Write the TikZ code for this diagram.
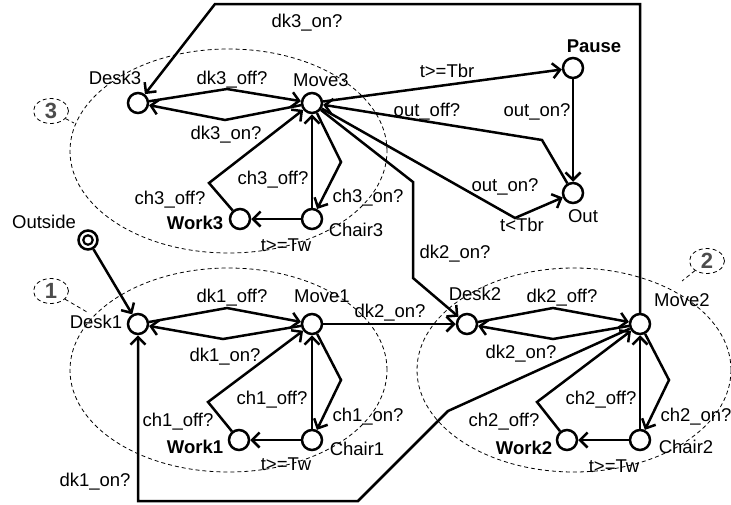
\documentclass[tikz,border=0pt]{standalone}
\usepackage{fontspec}
\setmainfont{Liberation Sans}
\usetikzlibrary{arrows.meta,shapes.geometric}
\begin{document}
\begin{tikzpicture}[x=1pt,y=-1pt,
  state/.style={circle,draw,fill=white,line width=2.5pt,minimum size=20pt,inner sep=0pt},
  lbl/.style={inner sep=0pt,text height=13pt,text depth=0pt,font=\fontsize{18.5}{20}\selectfont},
  blbl/.style={inner sep=0pt,text height=13pt,text depth=0pt,font=\fontsize{18.5}{20}\selectfont\bfseries},
  edge/.style={line width=2.5pt,-{Straight Barb[length=7.5pt,width=15pt]}},
  region/.style={draw,line width=0.8pt,dash pattern=on 4pt off 3pt},
  rlbl/.style={ellipse,draw,line width=0.8pt,dash pattern=on 4pt off 3pt,minimum width=35pt,minimum height=25pt,inner sep=0pt,text=black!70,font=\fontsize{22}{24}\selectfont\bfseries}
]
\useasboundingbox (0,0) rectangle (731,504);

% regions
\draw[region] (228.5,151) ellipse [x radius=158.5pt, y radius=102pt];
\draw[region] (228.5,370) ellipse [x radius=158.5pt, y radius=102pt];
\draw[region] (574,370) ellipse [x radius=157pt, y radius=102pt];

\node[rlbl] (r3) at (51,111) {3};
\node[rlbl] (r1) at (51,291) {1};
\node[rlbl] (r2) at (707,261) {2};
\coordinate (r3e) at (74,123);
\coordinate (r1e) at (87,312);
\coordinate (r2e) at (682,281);
\draw[region] (r3) -- (r3e);
\draw[region] (r1) -- (r1e);
\draw[region] (r2) -- (r2e);

% states
\node[state] (Desk3) at (138,103) {};
\node[state] (Move3) at (312,103) {};
\node[state] (Pause) at (573,68) {};
\node[state] (Out) at (573,193) {};
\node[state] (Work3) at (240,219) {};
\node[state] (Chair3) at (312,219) {};
\node[state,minimum size=19pt] (Outside) at (88,240) {};
\node[circle,draw,line width=2.2pt,minimum size=9.5pt,inner sep=0pt] (OutsideIn) at (88,240) {};
\node[state] (Desk1) at (138,324) {};
\node[state] (Move1) at (312,324) {};
\node[state] (Work1) at (239,440) {};
\node[state] (Chair1) at (312,440) {};
\node[state] (Desk2) at (467,324) {};
\node[state] (Move2) at (640,324) {};
\node[state] (Work2) at (567,440) {};
\node[state] (Chair2) at (640,440) {};

% state names
\node[lbl] (tDesk3) at (115,78) {Desk3};
\node[lbl] (tMove3) at (321,80) {Move3};
\node[blbl] (tPause) at (594,46) {Pause};
\node[lbl] (tOut) at (583,216) {Out};
\node[blbl] (tWork3) at (195,223) {Work3};
\node[lbl] (tChair3) at (356,230) {Chair3};
\node[lbl] (tOutside) at (44,222) {Outside};
\node[lbl] (tDesk1) at (96,322) {Desk1};
\node[lbl] (tMove1) at (322,296) {Move1};
\node[blbl] (tWork1) at (195,447) {Work1};
\node[lbl] (tChair1) at (357,449) {Chair1};
\node[lbl] (tDesk2) at (475,294) {Desk2};
\node[lbl] (tMove2) at (682,300) {Move2};
\node[blbl] (tWork2) at (524,448) {Work2};
\node[lbl] (tChair2) at (686,447) {Chair2};

% corner coordinates
\coordinate (tr) at (640,4);
\coordinate (tl) at (215,4);
\coordinate (bl) at (138,501);
\coordinate (bm) at (358,501);
\coordinate (bk) at (448,411);

% region 3 edges
\draw[edge] (Desk3) -- (227,89) -- (Move3);
\draw[edge] (Move3) -- (225,120) -- (Desk3);
\draw[edge] (Work3) -- (209,183) -- (Move3);
\draw[edge] (Chair3) -- (Move3);
\draw[edge] (Move3) -- (341,162) -- (Chair3);
\draw[edge] (Chair3) -- (Work3);
\draw[edge] (Move3) -- (Pause);
\draw[edge] (Out) -- (542,140) -- (Move3);
\draw[edge] (Pause) -- (Out);
\draw[edge] (Move3) -- (515,218) -- (Out);
\draw[edge] (Move3) -- (413,182) -- (413,278) -- (Desk2);
\draw[edge] (Move2) -- (tr) -- (tl) -- (Desk3);

% region 1 edges
\draw[edge] (Outside) -- (Desk1);
\draw[edge] (Desk1) -- (227,308) -- (Move1);
\draw[edge] (Move1) -- (223,339) -- (Desk1);
\draw[edge] (Work1) -- (208,402) -- (Move1);
\draw[edge] (Chair1) -- (Move1);
\draw[edge] (Move1) -- (341,380) -- (Chair1);
\draw[edge] (Chair1) -- (Work1);
\draw[edge] (Move1) -- (Desk2);
\draw[edge] (Move2) -- (bk) -- (bm) -- (bl) -- (Desk1);

% region 2 edges
\draw[edge] (Desk2) -- (553,308) -- (Move2);
\draw[edge] (Move2) -- (553,339) -- (Desk2);
\draw[edge] (Work2) -- (537,402) -- (Move2);
\draw[edge] (Chair2) -- (Move2);
\draw[edge] (Move2) -- (669,380) -- (Chair2);
\draw[edge] (Chair2) -- (Work2);

% edge labels
\node[lbl] at (307,21) {dk3\_on?};
\node[lbl] at (232,78) {dk3\_off?};
\node[lbl] at (226,133) {dk3\_on?};
\node[lbl] at (447,71) {t>=Tbr};
\node[lbl] at (427,110) {out\_off?};
\node[lbl] at (537,110) {out\_on?};
\node[lbl] at (505,185) {out\_on?};
\node[lbl] at (522,225) {t<Tbr};
\node[lbl] at (170,198) {ch3\_off?};
\node[lbl] at (273,178) {ch3\_off?};
\node[lbl] at (368,196) {ch3\_on?};
\node[lbl] at (286,245) {t>=Tw};
\node[lbl] at (455,252) {dk2\_on?};
\node[lbl] at (232,296) {dk1\_off?};
\node[lbl] at (225,355) {dk1\_on?};
\node[lbl] at (390,311) {dk2\_on?};
\node[lbl] at (178,420) {ch1\_off?};
\node[lbl] at (272,398) {ch1\_off?};
\node[lbl] at (368,415) {ch1\_on?};
\node[lbl] at (286,464) {t>=Tw};
\node[lbl] at (95,480) {dk1\_on?};
\node[lbl] at (562,296) {dk2\_off?};
\node[lbl] at (521,352) {dk2\_on?};
\node[lbl] at (504,420) {ch2\_off?};
\node[lbl] at (601,398) {ch2\_off?};
\node[lbl] at (696,415) {ch2\_on?};
\node[lbl] at (614,466) {t>=Tw};
\end{tikzpicture}
\end{document}
